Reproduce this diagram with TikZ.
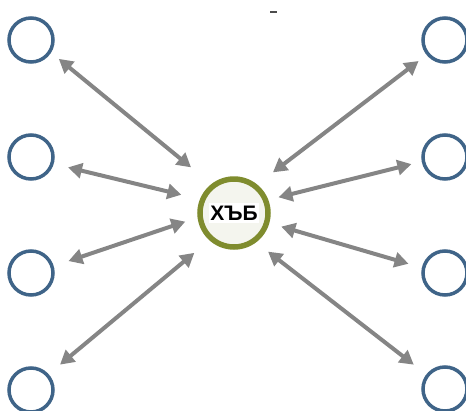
\documentclass[tikz,border=0pt]{standalone}
\usepackage{fontspec}
\setmainfont{Liberation Sans}
\usetikzlibrary{arrows.meta}
\definecolor{ringblue}{HTML}{3F6488}
\definecolor{hubolive}{HTML}{7F8C2E}
\definecolor{hubfill}{HTML}{F4F5EE}
\definecolor{linkgray}{HTML}{858585}
\tikzset{
  leaf/.style={circle, draw=ringblue, line width=3.5pt, fill=white,
    minimum size=44pt, inner sep=0pt},
  hubnode/.style={circle, draw=hubolive, line width=5.5pt, fill=hubfill,
    minimum size=68pt, inner sep=0pt, font=\bfseries\fontsize{21}{21}\selectfont},
  link/.style={draw=linkgray, line width=4pt,
    {Triangle[length=14pt,width=15pt]}-{Triangle[length=14pt,width=15pt]}}
}
\begin{document}
\begin{tikzpicture}[x=1pt, y=-1pt]
  \useasboundingbox (0,0) rectangle (466,410);

  % small tick mark near the top edge
  \draw[line width=2pt, draw=black!70] (270,12) -- (277,12);

  % outer nodes
  \node[leaf] (l1) at (31,40)  {};
  \node[leaf] (l2) at (31,157) {};
  \node[leaf] (l3) at (31,273) {};
  \node[leaf] (l4) at (31,390) {};
  \node[leaf] (r1) at (445,40)  {};
  \node[leaf] (r2) at (445,157) {};
  \node[leaf] (r3) at (445,273) {};
  \node[leaf] (r4) at (445,389) {};

  % central node
  \node[hubnode] (hub) at (234,213) {\colorbox{white}{\kern-2pt ХЪБ\kern-2pt}};

  % two-way links
  \draw[link, shorten <=9.9pt,  shorten >=26.3pt] (l1.-32.2)  -- (hub.128.2);
  \draw[link, shorten <=14.7pt, shorten >=19.1pt] (l2.-17.4)  -- (hub.158.8);
  \draw[link, shorten <=15.6pt, shorten >=12.9pt] (l3.17)     -- (hub.187.4);
  \draw[link, shorten <=14.8pt, shorten >=19.6pt] (l4.42.8)   -- (hub.-132.7);
  \draw[link, shorten <=10pt,   shorten >=19.9pt] (r1.-141.3) -- (hub.51.8);
  \draw[link, shorten <=10.6pt, shorten >=10.5pt] (r2.-169.4) -- (hub.21.3);
  \draw[link, shorten <=13.9pt, shorten >=12.4pt] (r3.167.1)  -- (hub.-16.5);
  \draw[link, shorten <=15.8pt, shorten >=15.1pt] (r4.142.5)  -- (hub.-53.4);
\end{tikzpicture}
\end{document}
